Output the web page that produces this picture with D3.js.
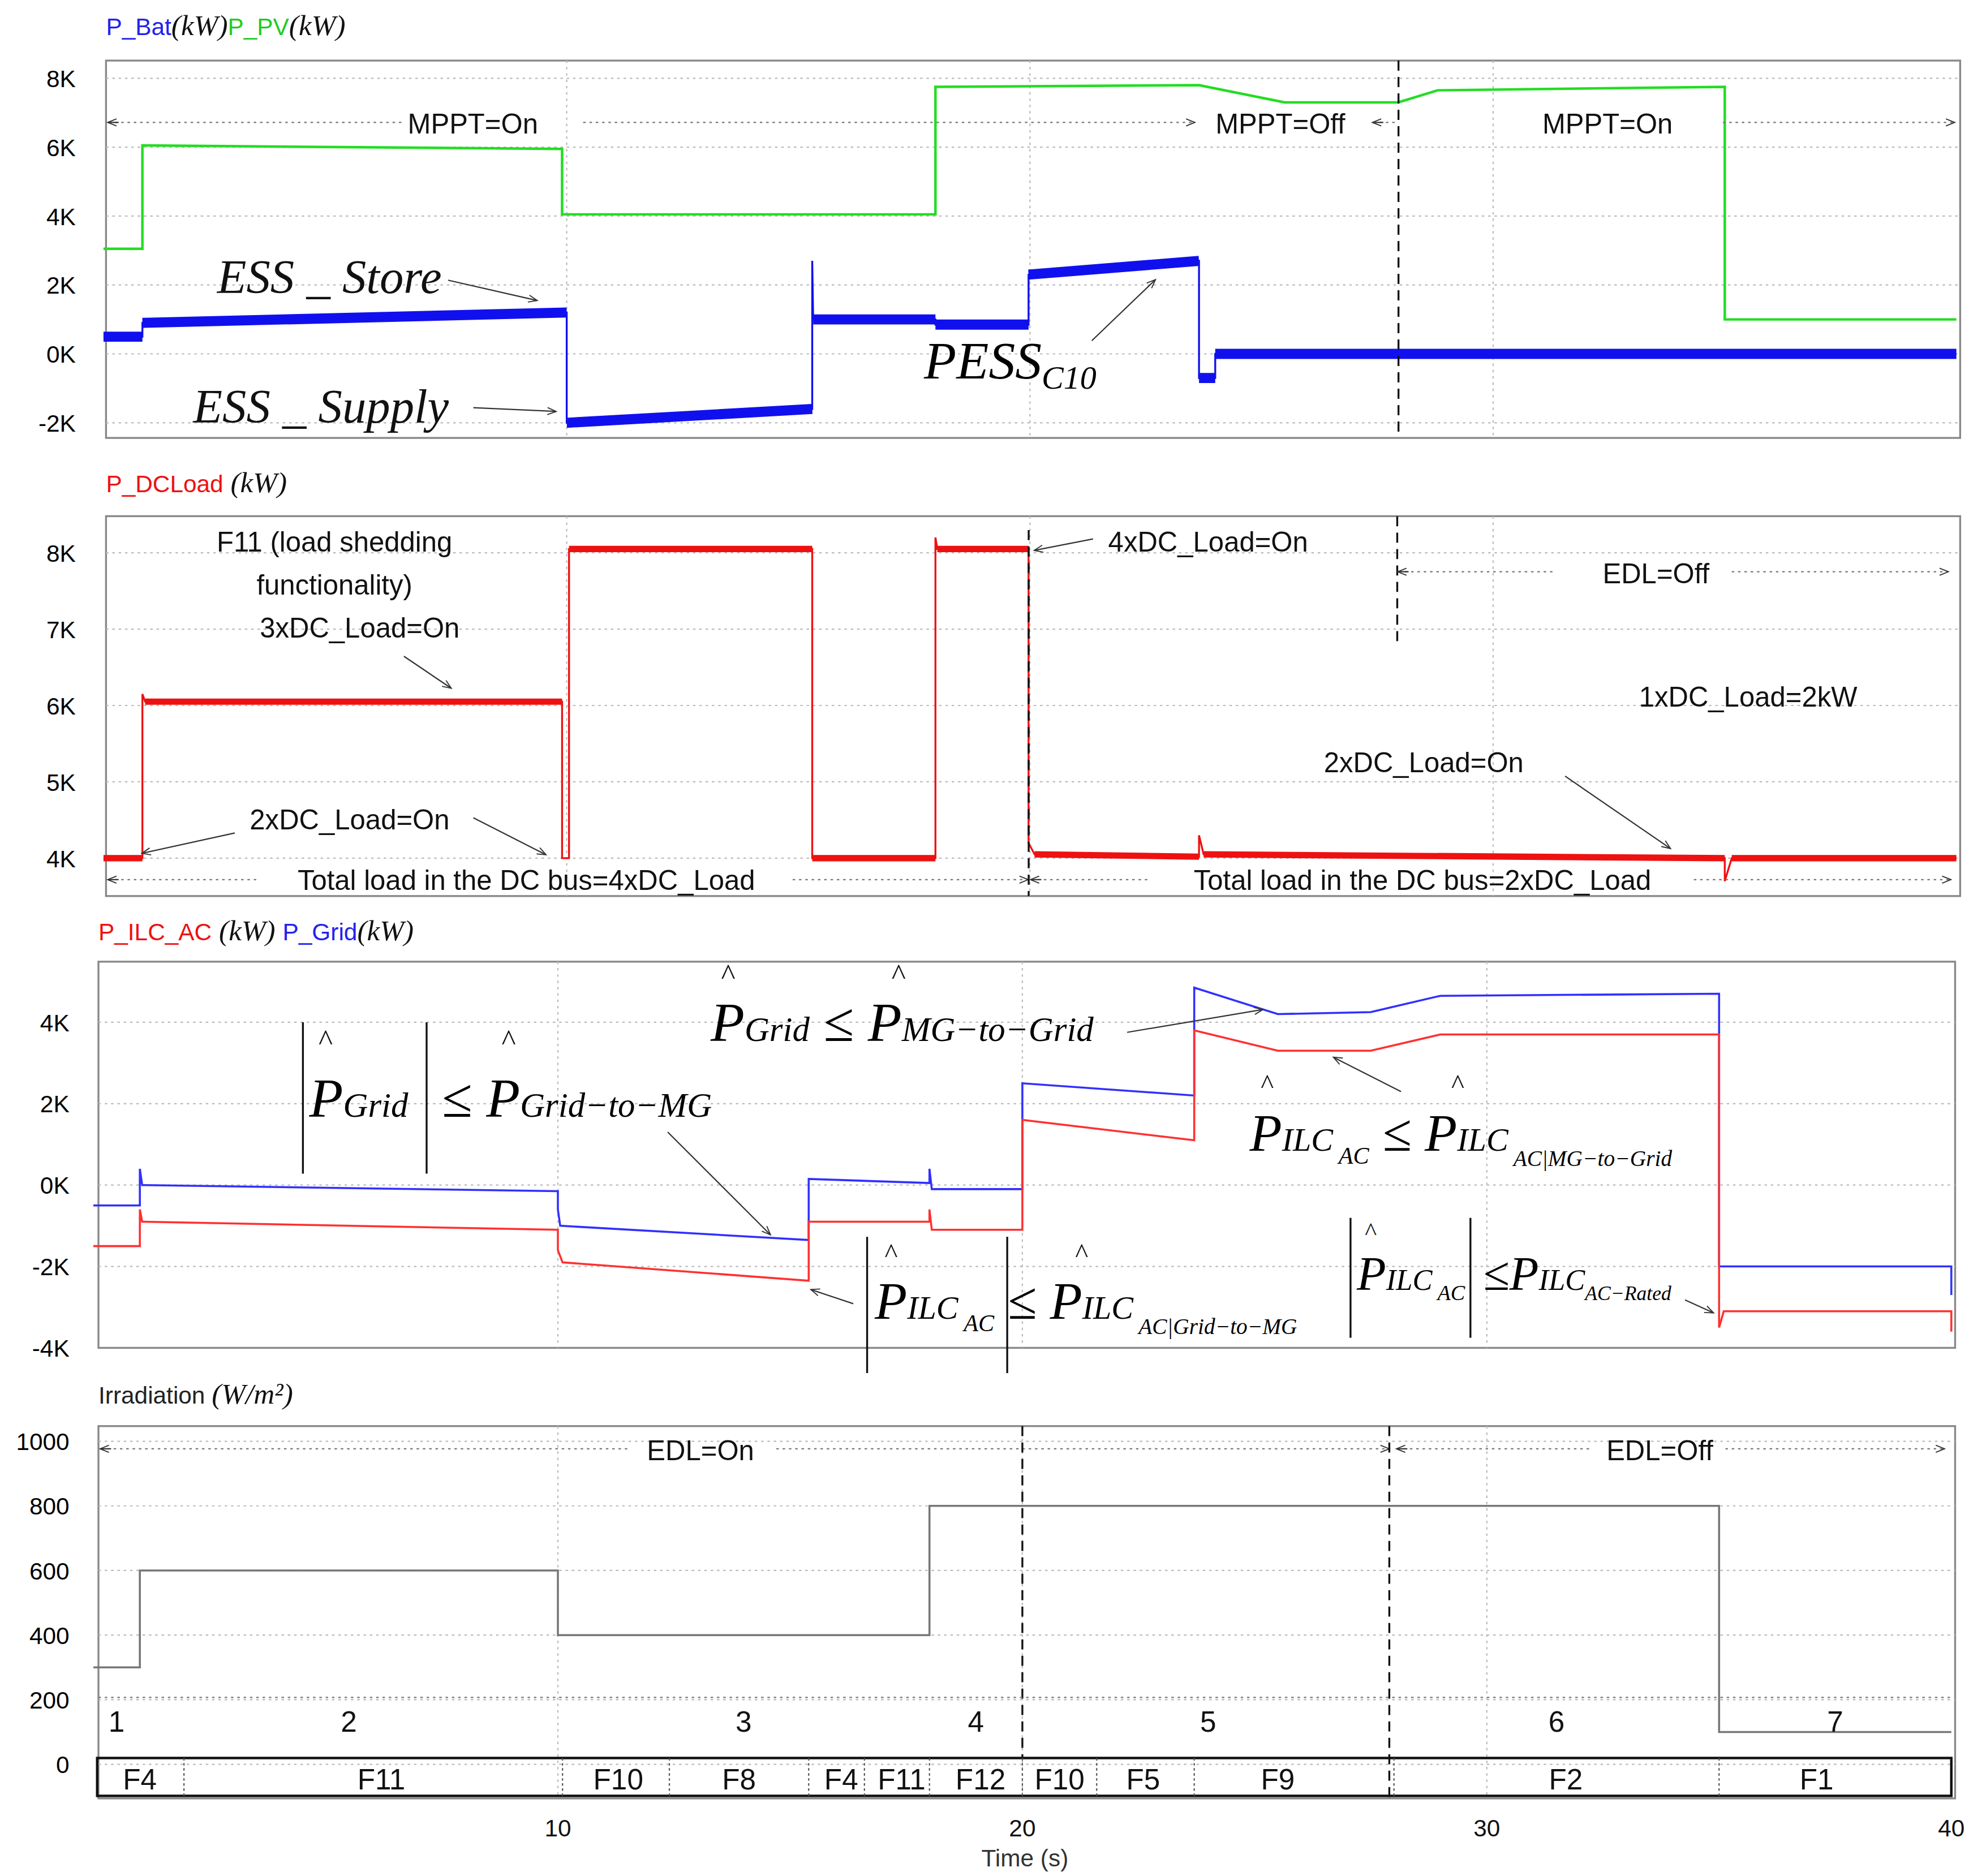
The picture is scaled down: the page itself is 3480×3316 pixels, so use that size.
<!DOCTYPE html>
<html><head><meta charset="utf-8">
<script src="https://cdnjs.cloudflare.com/ajax/libs/d3/7.8.5/d3.min.js"></script>
<style>body{margin:0;background:#fff}</style></head>
<body><svg id="c"></svg>
<script>
// ---- data (time s, value) ----
const pvPower=[[0,3.05],[0.84,3.05],[0.84,6.05],[9.9,5.95],[9.9,4.05],[17.96,4.05],[17.96,7.75],[23.65,7.8],[25.5,7.3],[27.95,7.3],[28.8,7.65],[35.0,7.75],[35.0,1.0],[40,1.0]];
const batPower=[[0,0.5],[0.84,0.5],[0.84,0.9],[10.0,1.2],[10.0,-2.0],[15.3,-1.6],[15.3,2.7],[15.32,1.0],[17.96,1.0],[17.96,0.85],[19.97,0.85],[19.97,2.3],[23.65,2.7],[23.65,-0.7],[24.0,-0.7],[24.0,0.0],[40,0.0]];
const dcLoad=[[0,4.0],[0.84,4.0],[0.84,6.15],[0.9,6.05],[9.9,6.05],[9.9,4.0],[10.05,4.0],[10.05,8.05],[15.3,8.05],[15.3,4.0],[17.96,4.0],[17.96,8.2],[18.0,8.05],[19.97,8.05],[19.97,4.2],[20.1,4.05],[23.65,4.02],[23.65,4.3],[23.75,4.05],[35.0,4.0],[35.0,3.7],[35.15,4.0],[40,4.0]];
const gridPower=[[0,-0.5],[1.0,-0.5],[1.0,0.4],[1.05,0.0],[10.0,-0.15],[10.0,-0.6],[10.05,-1.0],[15.4,-1.35],[15.4,0.15],[18.0,0.05],[18.0,0.4],[18.05,-0.1],[20.0,-0.1],[20.0,2.5],[23.7,2.2],[23.7,4.85],[25.5,4.2],[27.5,4.25],[29.0,4.65],[35.0,4.7],[35.0,-2.0],[40,-2.0],[40,-2.7]];
const ilcPower=[[0,-1.5],[1.0,-1.5],[1.0,-0.6],[1.05,-0.9],[10.0,-1.1],[10.0,-1.6],[10.1,-1.9],[15.4,-2.35],[15.4,-0.9],[18.0,-0.9],[18.0,-0.6],[18.05,-1.1],[20.0,-1.1],[20.0,1.6],[23.7,1.1],[23.7,3.8],[25.5,3.3],[27.5,3.3],[29.0,3.7],[35.0,3.7],[35.0,-3.5],[35.1,-3.1],[40,-3.1],[40,-3.6]];
const irradiation=[[0,300],[1.0,300],[1.0,600],[10.0,600],[10.0,400],[18.0,400],[18.0,800],[35.0,800],[35.0,100],[40,100]];
const ticks1=[-2,0,2,4,6,8], ticks2=[4,5,6,7,8], ticks3=[-4,-2,0,2,4], ticks4=[0,200,400,600,800,1000], timeTicks=[10,20,30,40];
const regions=[["1",0.5],["2",5.5],["3",14],["4",19],["5",24],["6",31.5],["7",37.5]];
const fLabels=[["F4",1],["F11",6.2],["F10",11.3],["F8",13.9],["F4",16.1],["F11",17.4],["F12",19.1],["F10",20.8],["F5",22.6],["F9",25.5],["F2",31.7],["F1",37.1]];
const fSeps=[1.95,10.1,12.4,15.4,16.6,18.0,20.0,21.6,23.7,28,35.0];

const W=3480,H=3316,VW=1560,VH=H*VW/W;
const svg=d3.select("#c").attr("width",W).attr("height",H).attr("viewBox",`0 0 ${VW} ${VH}`);
svg.append("defs").append("marker").attr("id","ar").attr("viewBox","0 0 10 10").attr("refX",9).attr("refY",5)
 .attr("markerWidth",9).attr("markerHeight",7).attr("orient","auto").append("path").attr("d","M0,1L10,5L0,9").attr("fill","none").attr("stroke","#333").attr("stroke-width",1.2);
const sans="Arial, Liberation Sans, sans-serif", serif="Liberation Serif, Times New Roman, serif";

function panel(p){
  const x=d3.scaleLinear().domain([0,40]).range([p.tx0,p.tx1]);
  const y=d3.scaleLinear().domain(p.yd).range([p.yb,p.yt]);
  const g=svg.append("g");
  g.append("rect").attr("x",p.bx0).attr("y",p.by0).attr("width",p.bx1-p.bx0).attr("height",p.by1-p.by0).attr("fill","#fff").attr("stroke","#888").attr("stroke-width",1.5);
  p.ticks.forEach(t=>{ if(y(t)>p.by0+3&&y(t)<p.by1-3) g.append("line").attr("x1",p.bx0).attr("x2",p.bx1).attr("y1",y(t)).attr("y2",y(t)).attr("stroke","#bbb").attr("stroke-dasharray","2,3");
    g.append("text").attr("x",p.lx).attr("y",y(t)+7).attr("text-anchor","end").attr("font-family",sans).attr("font-size",19).text(p.fmt(t));});
  [10,20,30].forEach(t=>g.append("line").attr("x1",x(t)).attr("x2",x(t)).attr("y1",p.by0).attr("y2",p.by1).attr("stroke","#bbb").attr("stroke-dasharray","2,3"));
  const line=d3.line().x(d=>x(d[0])).y(d=>y(d[1]));
  p.series.forEach(s=>{
    g.append("path").attr("d",line(s.d)).attr("fill","none").attr("stroke",s.c).attr("stroke-width",s.tw||s.w);
    if(s.tw) d3.pairs(s.d).filter(q=>q[1][0]-q[0][0]>0.3).forEach(q=>g.append("path").attr("d",line(q)).attr("fill","none").attr("stroke",s.c).attr("stroke-width",s.w).attr("stroke-linecap","butt"));
  });
  return {x,y,g};
}
const kf=t=>t+"K";
const P1=panel({bx0:84,bx1:1553,by0:48,by1:347,tx0:82,tx1:1550,yd:[-2,8],yb:335,yt:62,lx:60,ticks:ticks1,fmt:kf,
 series:[{d:pvPower,c:"#22dd22",w:2},{d:batPower,c:"#1010ee",w:8,tw:1.5}]});
const P2=panel({bx0:84,bx1:1553,by0:409,by1:710,tx0:82,tx1:1550,yd:[4,8],yb:680,yt:438,lx:60,ticks:ticks2,fmt:kf,
 series:[{d:dcLoad,c:"#ee1111",w:5,tw:1.5}]});
const P3=panel({bx0:78,bx1:1549,by0:762,by1:1068,tx0:74,tx1:1546,yd:[-4,4],yb:1068,yt:810,lx:55,ticks:ticks3,fmt:kf,
 series:[{d:gridPower,c:"#3030ff",w:1.6},{d:ilcPower,c:"#ff3030",w:1.6}]});
const P4=panel({bx0:78,bx1:1549,by0:1130,by1:1425,tx0:74,tx1:1546,yd:[0,1000],yb:1398,yt:1142,lx:55,ticks:ticks4,fmt:t=>t,
 series:[{d:irradiation,c:"#777",w:1.6}]});

function txt(x,y,s,o={}){return svg.append("text").attr("x",x).attr("y",y).attr("font-family",o.f||sans).attr("font-size",o.s||22)
  .attr("font-style",o.i?"italic":null).attr("fill",o.c||"#111").attr("text-anchor",o.a||"start").text(s);}
function dot(x1,x2,y,a1,a2){const l=svg.append("line").attr("x1",x1).attr("x2",x2).attr("y1",y).attr("y2",y).attr("stroke","#777").attr("stroke-dasharray","2,3");
  if(a2)l.attr("marker-end","url(#ar)"); if(a1)svg.append("line").attr("x1",x1+8).attr("x2",x1).attr("y1",y).attr("y2",y).attr("stroke","#333").attr("marker-end","url(#ar)");}
function arr(x1,y1,x2,y2){svg.append("line").attr("x1",x1).attr("y1",y1).attr("x2",x2).attr("y2",y2).attr("stroke","#333").attr("stroke-width",1).attr("marker-end","url(#ar)");}
function vdash(x,y1,y2){svg.append("line").attr("x1",x).attr("x2",x).attr("y1",y1).attr("y2",y2).attr("stroke","#111").attr("stroke-width",1.5).attr("stroke-dasharray","8,5");}
function title(y,parts){const t=svg.append("text").attr("x",parts.x).attr("y",y);parts.p.forEach(p=>t.append("tspan").attr("font-family",p.m?serif:sans).attr("font-style",p.m?"italic":null).attr("font-size",p.m?23:19).attr("fill",p.c).text(p.t));}
function bar(x,y1,y2){svg.append("line").attr("x1",x).attr("x2",x).attr("y1",y1).attr("y2",y2).attr("stroke","#111").attr("stroke-width",1.5);}
function math(x,y,parts,s){const t=svg.append("text").attr("x",x).attr("y",y).attr("font-family",serif).attr("font-style","italic").attr("font-size",s);
  parts.forEach(p=>{const ts=t.append("tspan").text(p.t).attr("font-size",p.sub?s*(p.ss||0.62):s);ts.attr("dy",p.dy||0);});return t;}

// titles
title(28,{x:84,p:[{t:"P_Bat",c:"#2222ee"},{t:"(kW)",m:1,c:"#111"},{t:"P_PV",c:"#22cc22"},{t:"(kW)",m:1,c:"#111"}]});
title(390,{x:84,p:[{t:"P_DCLoad",c:"#ee1111"},{t:" (kW)",m:1,c:"#111"}]});
title(745,{x:78,p:[{t:"P_ILC_AC",c:"#ee1111"},{t:" (kW) ",m:1,c:"#111"},{t:"P_Grid",c:"#2222ee"},{t:"(kW)",m:1,c:"#111"}]});
title(1112,{x:78,p:[{t:"Irradiation ",c:"#222"},{t:"(W/m²)",m:1,c:"#111"}]});

// panel1 annotations
dot(86,318,97,1,0);txt(323,106,"MPPT=On");dot(462,946,97,0,1);txt(963,106,"MPPT=Off");dot(1088,1105,97,1,0);txt(1222,106,"MPPT=On");dot(1365,1548,97,0,1);
vdash(1108,48,347);
txt(172,232,"ESS _ Store",{f:serif,i:1,s:38});arr(355,222,425,238);
txt(153,335,"ESS _ Supply",{f:serif,i:1,s:38});arr(375,323,440,326);
math(732,300,[{t:"PESS"},{t:"C10",sub:1,dy:8}],42);arr(865,270,915,222);

// panel2
txt(265,437,"F11 (load shedding",{a:"middle"});txt(265,471,"functionality)",{a:"middle"});txt(285,505,"3xDC_Load=On",{a:"middle"});arr(320,520,357,545);
txt(277,657,"2xDC_Load=On",{a:"middle"});arr(186,660,113,676);arr(375,648,432,677);
dot(86,205,697,1,0);txt(417,705,"Total load in the DC bus=4xDC_Load",{a:"middle"});dot(628,814,697,0,1);
txt(878,437,"4xDC_Load=On");arr(866,427,820,436);vdash(815,420,710);vdash(1107,409,512);
dot(1108,1230,453,1,0);txt(1312,462,"EDL=Off",{a:"middle"});dot(1372,1543,453,0,1);
txt(1385,560,"1xDC_Load=2kW",{a:"middle"});txt(1128,612,"2xDC_Load=On",{a:"middle"});arr(1240,615,1323,672);
dot(817,912,697,1,0);txt(1127,705,"Total load in the DC bus=2xDC_Load",{a:"middle"});dot(1342,1545,697,0,1);

// panel3 math
bar(240,810,930);bar(338,810,930);
math(245,885,[{t:"P"},{t:"Grid ",sub:1,dy:0},{t:"",dy:0}],44);
txt(258,832,"^",{f:serif,s:24,a:"middle"});
math(350,885,[{t:"≤ P"},{t:"Grid−to−MG",sub:1}],44);txt(403,832,"^",{f:serif,s:24,a:"middle"});arr(529,897,610,978);
math(563,825,[{t:"P"},{t:"Grid",sub:1},{t:" ≤ P",dy:0},{t:"MG−to−Grid",sub:1}],44);
txt(577,780,"^",{f:serif,s:24,a:"middle"});txt(712,780,"^",{f:serif,s:24,a:"middle"});arr(893,818,1000,800);
math(990,912,[{t:"P"},{t:"ILC",sub:1},{t:" AC",sub:1,ss:0.45,dy:10},{t:" ≤ P",dy:-10},{t:"ILC",sub:1},{t:" AC|MG−to−Grid",sub:1,ss:0.42,dy:12}],42);
txt(1004,866,"^",{f:serif,s:22,a:"middle"});txt(1155,866,"^",{f:serif,s:22,a:"middle"});arr(1110,865,1057,838);
bar(687,980,1088);bar(798,980,1088);
math(693,1045,[{t:"P"},{t:"ILC",sub:1},{t:" AC",sub:1,ss:0.45,dy:10},{t:"  ≤ P",dy:-10},{t:"ILC",sub:1},{t:" AC|Grid−to−MG",sub:1,ss:0.42,dy:12}],42);
txt(706,1000,"^",{f:serif,s:22,a:"middle"});txt(857,1000,"^",{f:serif,s:22,a:"middle"});arr(676,1033,643,1022);
bar(1070,965,1060);bar(1165,965,1060);
math(1075,1022,[{t:"P"},{t:"ILC",sub:1},{t:" AC",sub:1,ss:0.45,dy:8}],38);
math(1175,1022,[{t:"≤P"},{t:"ILC",sub:1},{t:"AC−Rated",sub:1,ss:0.42,dy:8}],38);
txt(1086,982,"^",{f:serif,s:20,a:"middle"});arr(1335,1030,1357,1040);

// panel4
dot(80,500,1148,1,0);txt(555,1157,"EDL=On",{a:"middle"});dot(615,1100,1148,0,1);
dot(1107,1262,1148,1,0);txt(1315,1157,"EDL=Off",{a:"middle"});dot(1367,1540,1148,0,1);
vdash(P4.x(20),1130,1393);vdash(P4.x(27.9),1130,1425);
dot(78,1546,1345,0,0);
regions.forEach(r=>txt(P4.x(r[1]),1372,r[0],{a:"middle",s:23}));
svg.append("rect").attr("x",77).attr("y",1393).attr("width",1469).attr("height",30).attr("fill","none").attr("stroke","#111").attr("stroke-width",2);
fSeps.forEach(t=>svg.append("line").attr("x1",P4.x(t)).attr("x2",P4.x(t)).attr("y1",1393).attr("y2",1423).attr("stroke","#555").attr("stroke-dasharray","2,2"));
fLabels.forEach(f=>txt(P4.x(f[1]),1418,f[0],{a:"middle",s:23}));
timeTicks.forEach(t=>txt(P4.x(t),1455,t,{a:"middle",s:19}));
txt(812,1479,"Time (s)",{a:"middle",s:19,c:"#333"});
</script></body></html>
